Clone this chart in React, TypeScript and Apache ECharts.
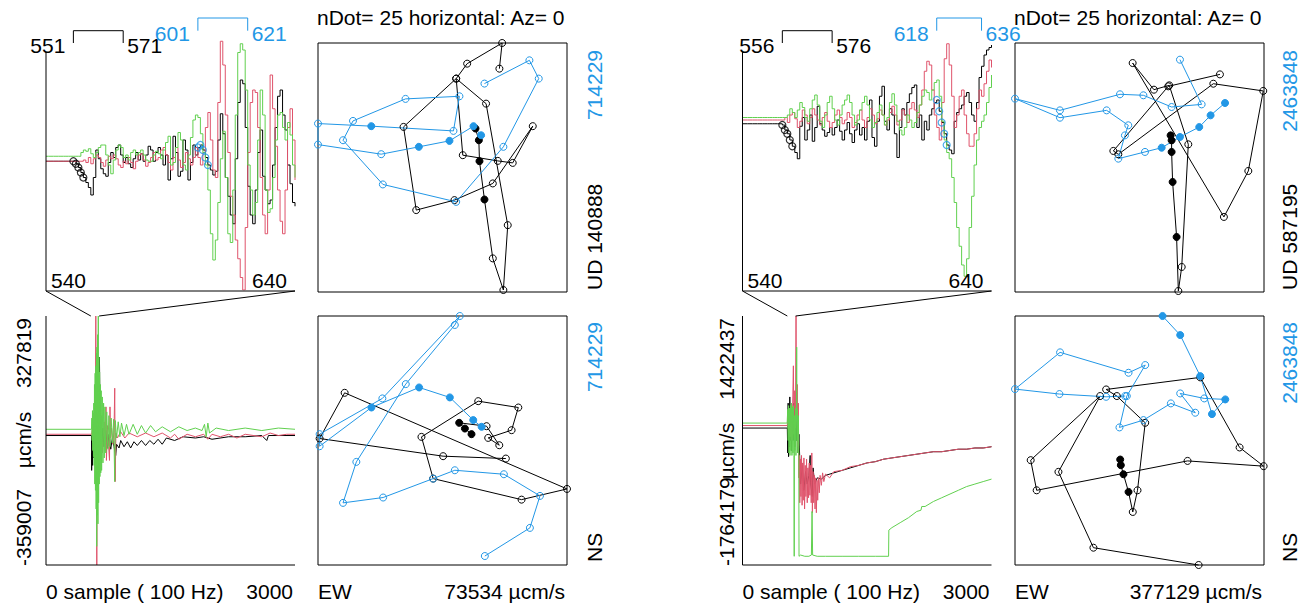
import React, { useEffect, useRef } from "react";
import * as echarts from "echarts";

const BLACK = "#000000";
const RED = "#DF536B";
const GREEN = "#61D04F";
const BLUE = "#2297E6";
const FONT = '"Liberation Sans", Arial, sans-serif';

// ---------- zoomed waveforms, samples 540..640 (amplitude, arbitrary units) ----------
const zoomStart = 540;
const zoomEnd = 640;

const L_zoomBlack = [
  3, 3, 3, 3, 3, 3, 3, 3, 3, 3, 3,
  3, 1, -2, -6, -10, -14, -18, -24, -10, 12,
  5, -3, -7, -9, 2, 10, 6, 14, 16, 8,
  2, 6, 1, -2, 5, 10, 4, 9, 3, 8,
  15, 12, 3, 10, 14, 8, 0, 8, -12, 5,
  23, 10, -9, -5, 20, 12, -12, 2, 16, 8,
  14, 16, 12, 6, 0, -4, -8, -5, 20, 41,
  25, -10, -25, -40, -47, 5, 50, 68, 65, 30,
  -17, -40, -47, -20, 10, 28, -9, -20, -31, -28,
  0, 30, 55, 60, 40, 28, 0, -15, -30, -33,
];
const L_zoomRed = [
  3, 3, 3, 3, 3, 3, 3, 3, 3, 3, 3, 3, 3, 3, 3,
  4, 2, 6, 1, 5, 8,
  6, 2, -1, 4, 7, 5, 8, 5, 0, -2,
  3, 1, 6, 2, -3, 3, 8, 9, 4, -1,
  2, 6, 10, 4, 6, 12, 14, 8, 2, -4,
  6, 14, 4, -2, 2, 10, 5, 0, 6, 14,
  6, 0, 10, 30, 42, 20, -4, -10, 50, 99,
  80, 40, 10, -25, -40, -60, -75, -90, -100, -50,
  10, 50, 60, 58, 30, -10, -40, -55, -20, 72,
  45, 15, -20, -45, -55, -20, 30, 45, 20, -12,
];
const L_zoomGreen = [
  7, 7, 7, 7, 7, 7, 7, 7, 7, 7, 7, 7, 7, 7,
  10, 12, 11, 13, 9, 6, 10,
  14, 16, 16, 8, 0, -7, 4, 12, 16, 14,
  6, 8, 4, 10, 12, 8, 10, 12, 8, 4,
  3, 3, 8, 11, 9, 5, 12, 18, 23, 0,
  2, 14, 26, 20, 0, -4, 8, 22, 36, 40,
  38, 25, 10, 0, -20, -55, -76, -60, -30, 5,
  27, -10, -55, -62, -20, 40, 90, 97, 92, 60,
  0, -20, -40, -30, 20, 60, 40, -20, -38, -35,
  -10, 20, 40, 42, 30, 20, 34, 24, 0, -10,
];

const R_zoomBlack = [
  33, 33, 33, 33, 33, 33, 33, 33, 33, 33, 33, 33, 33, 33, 33, 33,
  32, 28, 25, 20, 15,
  10, 5, 31, 38, 20, 28, 40, 19, 30, 47,
  33, 28, 23, 26, 30, 24, 30, 36, 27, 20,
  28, 34, 25, 18, 28, 33, 24, 30, 20, 35,
  52, 22, 15, 35, 55, 63, 35, 28, 45, 40,
  25, 6, 30, 45, 40, 50, 57, 62, 64, 30,
  40, 20, 35, 28, 40, 45, 50, 52, 43, 34,
  25, 16, 12, 9, 35, 42, 45, 48, 55, 58,
  50, 40, 35, 50, 70, 79, 88, 92, 94, 96,
];
const R_zoomRed = [
  36, 36, 36, 36, 36, 36, 36, 36, 36, 36, 36, 36, 36, 36, 36, 36, 36,
  38, 34, 40, 42,
  37, 30, 35, 44, 40, 33, 38, 45, 40, 36,
  32, 38, 42, 35, 30, 34, 40, 44, 38, 33,
  36, 42, 38, 30, 34, 40, 44, 36, 30, 38,
  45, 40, 33, 37, 44, 40, 32, 36, 42, 47,
  40, 32, 36, 44, 40, 34, 45, 50, 44, 38,
  48, 60, 75, 83, 80, 60, 40, 30, 20, 50,
  85, 97, 80, 55, 30, 40, 55, 60, 40, 25,
  15, 15, 25, 45, 60, 55, 65, 75, 84, 78,
];
const R_zoomGreen = [
  38, 38, 38, 38, 38, 38, 38, 38, 38, 38, 38, 38, 38, 38, 38, 38, 38, 38,
  40, 45, 42,
  38, 44, 50, 46, 38, 35, 45, 52, 56, 48,
  35, 30, 40, 50, 55, 45, 36, 32, 40, 48,
  52, 56, 50, 40, 32, 36, 44, 50, 55, 48,
  36, 30, 34, 42, 48, 40, 32, 38, 50, 57,
  48, 35, 28, 24, 30, 40, 36, 30, 34, 42,
  48, 55, 60, 58, 52, 60, 66, 68, 55, 35,
  20, 10, 5, -10, -30, -50, -65, -80, -89, -75,
  -50, -25, 0, 20, 30, 35, 40, 50, 62, 72,
];

// particle-motion windows [start, end]
const L_blackWin = [551, 571];
const L_blueWin = [601, 621];
const R_blackWin = [556, 576];
const R_blueWin = [618, 636];
const nMark = 5;

// ---------- full records, samples 0..3000 : [sample, amplitude] ----------
const fullEnd = 3000;
const L_fullBlack = [
  [0, 4], [548, 4], [550, -24], [553, -10], [558, -20], [563, 0], [570, -14], [580, 8], [590, -10],
  [600, 15], [610, -18], [620, 20], [630, -10], [640, 25], [644, 67], [648, 40], [652, -10], [660, 15],
  [670, -8], [685, 10], [700, -5], [720, 8], [740, -6], [760, 5], [780, -7], [800, 2], [820, -5],
  [840, -12], [850, -3], [880, -6], [900, 0], [940, -5], [980, -1], [1020, -6], [1060, -1], [1100, -4],
  [1150, 0], [1200, -4], [1250, 0], [1300, -3], [1350, 1], [1400, -3], [1450, 2], [1550, 0], [1650, 3],
  [1800, 2], [1900, 3], [2000, 1], [2200, 3], [2400, 3], [2600, 4], [2660, 0], [2680, 4], [2800, 4], [3000, 4],
];
const L_fullRed = [
  [0, 5], [550, 5], [560, 10], [565, -2], [575, 14], [582, -8], [590, 25], [596, -20], [600, 100],
  [604, -30], [608, 40], [612, -100], [616, 30], [622, -40], [630, 45], [638, -25], [646, 30], [655, -15],
  [665, 20], [680, -10], [700, 15], [715, -8], [723, 27], [728, -16], [740, 12], [755, -5], [765, -16],
  [771, 27], [778, 2], [790, 10], [805, -3], [820, 8], [828, 42], [834, -33], [842, 6], [860, 2],
  [900, 7], [950, 2], [1000, 6], [1100, 3], [1200, 6], [1300, 3], [1400, 6], [1500, 2], [1550, 5],
  [1600, 1], [1700, 5], [1800, 3], [1900, 5], [1950, 1], [2000, 5], [2100, 3], [2200, 5], [2300, 2],
  [2400, 5], [2600, 3], [2700, 6], [2800, 4], [2900, 5], [3000, 5],
];
const L_fullGreen = [
  [0, 9], [548, 9], [553, 18], [556, 0], [560, 24], [564, -8], [568, 22], [572, -13], [576, 30],
  [580, -20], [584, 45], [588, -35], [592, 54], [596, -40], [600, 60], [604, -55], [608, 70], [611, -85],
  [614, 75], [618, -60], [622, 85], [626, -67], [630, 100], [634, -50], [638, 67], [642, -35], [646, 55],
  [650, -29], [655, 45], [660, -26], [665, 40], [670, -24], [678, 35], [686, -18], [694, 30], [702, -14],
  [710, 27], [720, -10], [732, 23], [745, -7], [758, 20], [770, -5], [785, 18], [800, -2], [815, 17],
  [828, -33], [835, 16], [850, 2], [870, 15], [890, 3], [910, 14], [940, 4], [970, 13], [1000, 5],
  [1050, 13], [1100, 5], [1150, 12], [1200, 6], [1260, 12], [1320, 7], [1400, 11], [1500, 7],
  [1600, 11], [1700, 8], [1800, 10], [1880, 8], [1910, 13], [1930, 3], [1950, 14], [1970, 6],
  [2050, 10], [2200, 8], [2400, 10], [2600, 8], [2800, 10], [3000, 9],
];

const R_fullBlack = [
  [0, 10], [540, 10], [545, -10], [550, 30], [555, -13], [560, 20], [565, -5], [570, 35], [575, 0],
  [580, 25], [590, -8], [600, 20], [610, 0], [620, 30], [630, -5], [640, 15], [650, 0], [660, 20],
  [670, -10], [680, 5], [690, -15], [694, -20], [700, -35], [720, -20], [740, -40], [760, -25],
  [780, -35], [800, -28], [815, -12], [820, -34], [840, -45], [850, -22], [870, -35], [900, -30],
  [950, -31], [1000, -28], [1100, -26], [1200, -24], [1300, -22], [1400, -20], [1500, -18],
  [1600, -17], [1700, -15], [1800, -14], [1900, -13], [2000, -12], [2100, -11], [2200, -10],
  [2300, -9], [2400, -9], [2500, -8], [2600, -7], [2700, -7], [2800, -6], [2900, -6], [3000, -5],
];
const R_fullRed = [
  [0, 12], [540, 12], [548, 20], [555, 5], [565, 22], [575, 3], [585, 25], [595, 0], [605, 30],
  [613, 60], [620, 5], [630, 40], [638, 10], [645, 100], [650, 20], [660, 45], [668, -5], [673, 30],
  [678, -30], [685, -12], [690, -50], [697, -15], [704, -45], [711, -12], [718, -52], [725, -18],
  [732, -48], [740, -14], [748, -55], [756, -20], [764, -45], [772, -15], [780, -50], [788, -22],
  [796, -46], [804, -18], [812, -44], [820, -20], [828, -50], [835, -10], [842, -58], [850, -25],
  [858, -50], [866, -28], [874, -55], [882, -30], [890, -58], [898, -32], [906, -48], [915, -30],
  [925, -42], [935, -28], [950, -36], [965, -26], [980, -33], [1000, -27], [1050, -30], [1100, -25],
  [1200, -24], [1300, -21], [1400, -20], [1500, -18], [1600, -17], [1700, -15], [1800, -14],
  [1900, -13], [2000, -12], [2100, -11], [2200, -10], [2300, -9], [2400, -9], [2500, -8],
  [2600, -7], [2700, -7], [2800, -6], [2900, -6], [3000, -5],
];
const R_fullGreen = [
  [0, 14], [538, 14], [545, 25], [550, 0], [555, 28], [560, -10], [566, 26], [572, -12], [578, 28],
  [584, -8], [590, 30], [596, -12], [602, 27], [608, -10], [614, 28], [620, -12], [623, -93],
  [626, 20], [632, -8], [638, 26], [644, -12], [650, 30], [653, 75], [657, 0], [662, 25], [668, -10],
  [673, 20], [678, -5], [681, -93], [700, -92], [750, -93], [800, -93], [830, -92], [838, -57],
  [845, -92], [900, -93], [1000, -93], [1200, -93], [1400, -93], [1600, -93], [1760, -93],
  [1763, -72], [1800, -70], [1900, -66], [2000, -62], [2100, -57], [2150, -56], [2160, -53],
  [2200, -53], [2300, -49], [2400, -46], [2500, -43], [2600, -40], [2700, -37], [2800, -35],
  [2900, -33], [3000, -31],
];

// ---------- particle motion: [x, y, filled] (normalised to +-100) ----------
const L_pmTopBlack = [
  [26.5, 31.3, 1], [29.2, 21.9, 1], [29.7, 5.1, 1], [33.7, -25.7, 1], [40.4, -73, 0], [48.9, -98.4, 0],
  [52.4, -46.3, 0], [35, 51.3, 0], [11, 71.4, 0], [16.3, 9.9, 0], [44.4, 5.3, 0], [56.4, 3.7, 0],
  [72.5, 33.2, 0], [40.4, -12.8, 0], [9.6, -26.2, 0], [-21.1, -34.2, 0], [-31.3, 32.6, 0],
  [11, 71.4, 0], [19.8, 83.4, 0], [47.9, 100, 0], [45.7, 79.4, 0],
];
const L_pmTopBlue = [
  [31, 25.9, 1], [24.9, 33.2, 1], [5.6, 21.4, 1], [-19, 16.6, 1], [-49.2, 10.7, 0], [-100, 18.4, 0],
  [-100, 35.3, 0], [-57.2, 33.2, 1], [8.8, 29.4, 0], [13.6, 57.2, 0], [-29.7, 55.1, 0], [-71.9, 37.4, 0],
  [-79.9, 21.9, 0], [-47.9, -13.6, 0], [11, -27.6, 0], [48.9, 16.6, 0], [77.3, 71.4, 0],
  [69.8, 86.1, 0], [33.7, 67.4, 0],
];
const L_pmBotBlack = [
  [23.3, 5.1, 1], [18, 9.6, 1], [13.4, 14.2, 1], [35.4, 11.5, 0], [45.6, -3.8, 0], [36.7, 2.1, 0],
  [55.5, 8.3, 0], [60.9, 26.5, 0], [28.7, 31.6, 0], [-16.9, 2.9, 0], [-7.5, -30.6, 0], [63.5, -47.5, 0],
  [100, -38.9, 0], [-78.6, 38.3, 0], [-98.7, 1.6, 0], [0.5, -12.6, 0], [50.9, -14.5, 0],
];
const L_pmBotBlue = [
  [31.4, 11, 1], [24.7, 16.4, 1], [5.9, 34.6, 1], [-18.8, 42.6, 1], [-57.1, 26.5, 1], [-98.7, -4.6, 0],
  [-98.7, 5.1, 0], [-48.3, 33.8, 0], [13.9, 100, 0], [9.9, 92.8, 0], [-29.5, 45.3, 0], [-69.2, -17.2, 0],
  [-79.9, -50.1, 0], [-47.7, -45.8, 0], [-7.5, -30.6, 0], [9.9, -23.9, 0], [49.3, -27.1, 0],
  [78.3, -44.5, 0], [70.2, -70.2, 0], [34, -92.8, 0],
];
const R_pmTopBlack = [
  [25, 25.8, 1], [25.8, 21.8, 1], [25.8, 12.5, 1], [26.6, -11.6, 1], [29.8, -55.8, 1], [31.2, -99.2, 0],
  [33.9, -79.9, 0], [39.2, 18.6, 0], [23.9, 66, 0], [11.6, 62.5, 0], [-5.5, 83.9, 0], [67.8, -39.7, 0],
  [87.4, -2.8, 0], [99.4, 61.5, 0], [59.3, 67.3, 0], [-17, 10.6, 0], [-21, 13.3, 0], [23.1, 65.2, 0],
  [64.6, 74.8, 0],
];
const R_pmTopBlue = [
  [68.7, 51.8, 1], [57.1, 41.9, 1], [48, 32.5, 1], [32.5, 24.5, 1], [17.8, 15.9, 1], [4.4, 12.5, 0],
  [-17, 7.1, 0], [-11.7, 25.8, 0], [-9, 33.9, 0], [-26.4, 45.9, 0], [-63.9, 40, 0], [-100, 55.3, 0],
  [-63.9, 45.9, 0], [-15.7, 58.8, 0], [3.1, 58, 0], [25.8, 48.6, 0], [49.9, 50.7, 0], [32.5, 86.6, 0],
];
const R_pmBotBlack = [
  [-15.5, -15.3, 1], [-15, -19.8, 1], [-12.9, -27.1, 1], [-8.8, -41.3, 1], [-5.4, -57.4, 0],
  [-1.6, -40, 0], [4.6, 14.2, 0], [-18.2, 35.7, 0], [-26.8, 41, 0], [48.8, 50.7, 0], [80.4, -5.6, 0],
  [99.7, -20.6, 0], [38.6, -16.4, 0], [-82.6, -40, 0], [-87.4, -15.8, 0], [-31.6, 35.7, 0],
  [-65.1, -25.2, 0], [-37, -86.1, 0], [47.5, -100, 0],
];
const R_pmBotBlue = [
  [18.5, 100, 1], [32.7, 84.7, 1], [48.8, 51.7, 1], [58.2, 21.2, 1], [68.9, 33, 1], [52, 33.8, 0],
  [32.7, 37.8, 0], [44.8, 22.3, 0], [25.2, 29.8, 0], [3.2, 16.4, 0], [-16.1, 10.5, 0], [-10.2, 35.7, 0],
  [4.6, 60.6, 0], [-8.8, 54.4, 0], [-63.8, 70.8, 0], [-100, 41.3, 0], [-64.3, 37.3, 0],
  [-26.8, 35.1, 0], [-11.5, 35.7, 0],
];

// ---------- text ----------
const titleText = "nDot= 25 horizontal: Az= 0";
const sampleText = "0 sample ( 100 Hz)";
const L_ampLabels = ["-359007", "\u00b5cm/s", "327819"];
const R_ampLabels = ["-1764179", "\u00b5cm/s", "1422437"];
const L_pmLabels = { blue: "714229", ud: "UD 140888", ew: "73534 \u00b5cm/s" };
const R_pmLabels = { blue: "2463848", ud: "UD 587195", ew: "377129 \u00b5cm/s" };

const GROUPS = [
  {
    wl: 46, pl: 318, ampX: 23, ampMid: 440, pmLabX: 594,
    zoom: [L_zoomBlack, L_zoomRed, L_zoomGreen], full: [L_fullBlack, L_fullRed, L_fullGreen],
    blackWin: L_blackWin, blueWin: L_blueWin,
    pmTop: [L_pmTopBlack, L_pmTopBlue], pmBot: [L_pmBotBlack, L_pmBotBlue],
    amp: L_ampLabels, pmLab: L_pmLabels,
  },
  {
    wl: 742.5, pl: 1015, ampX: 726, ampMid: 451, pmLabX: 1289,
    zoom: [R_zoomBlack, R_zoomRed, R_zoomGreen], full: [R_fullBlack, R_fullRed, R_fullGreen],
    blackWin: R_blackWin, blueWin: R_blueWin,
    pmTop: [R_pmTopBlack, R_pmTopBlue], pmBot: [R_pmBotBlack, R_pmBotBlue],
    amp: R_ampLabels, pmLab: R_pmLabels,
  },
];

const W = 249;
const TOP_T = 40, TOP_H = 250;
const BOT_T = 316, BOT_H = 249;
const PM_T1 = 43, PM_T2 = 316;

function text(x: number, y: number, s: string, o: any = {}) {
  return {
    type: "text", x, y, silent: true, rotation: o.rot ? Math.PI / 2 : 0, z: 50,
    style: {
      text: s, fill: o.color || BLACK, fontSize: 21, fontFamily: FONT,
      align: o.align || "left", verticalAlign: o.va || "middle",
    },
  };
}
function line(x1: number, y1: number, x2: number, y2: number, color = BLACK) {
  return { type: "line", silent: true, z: 40, shape: { x1, y1, x2, y2 }, style: { stroke: color, lineWidth: 1 } };
}

function buildOption() {
  const grid: any[] = [], xAxis: any[] = [], yAxis: any[] = [], series: any[] = [], graphic: any[] = [];
  const cols = [BLACK, RED, GREEN];

  GROUPS.forEach((g, gi) => {
    const base = gi * 4;
    grid.push({ left: g.wl, top: TOP_T, width: W, height: TOP_H });
    grid.push({ left: g.wl, top: BOT_T, width: W, height: BOT_H });
    grid.push({ left: g.pl, top: PM_T1, width: W, height: W, show: true, borderColor: BLACK, borderWidth: 1, backgroundColor: "transparent" });
    grid.push({ left: g.pl, top: PM_T2, width: W, height: W, show: true, borderColor: BLACK, borderWidth: 1, backgroundColor: "transparent" });
    const xr = [[zoomStart, zoomEnd], [0, fullEnd], [-100, 100], [-100, 100]];
    for (let k = 0; k < 4; k++) {
      xAxis.push({ type: "value", gridIndex: base + k, min: xr[k][0], max: xr[k][1], show: false });
      yAxis.push({ type: "value", gridIndex: base + k, min: -100, max: 100, show: false });
    }
    // zoomed traces
    g.zoom.forEach((arr, ci) => {
      series.push({
        type: "line", xAxisIndex: base, yAxisIndex: base, step: "end", showSymbol: false, silent: true,
        lineStyle: { color: cols[ci], width: 1 }, data: arr.map((v, i) => [zoomStart + i, v]),
      });
    });
    const markOn = (win: number[], col: string) => ({
      type: "scatter", xAxisIndex: base, yAxisIndex: base, symbol: "circle", symbolSize: 7, silent: true, z: 5,
      itemStyle: { color: "rgba(0,0,0,0)", borderColor: col, borderWidth: 1.2 },
      data: Array.from({ length: nMark }, (_, i) => [win[0] + i, g.zoom[0][win[0] + i - zoomStart]]),
    });
    series.push(markOn(g.blackWin, BLACK));
    series.push(markOn(g.blueWin, BLUE));
    // full traces
    g.full.forEach((arr, ci) => {
      series.push({
        type: "line", xAxisIndex: base + 1, yAxisIndex: base + 1, showSymbol: false, silent: true,
        lineStyle: { color: cols[ci], width: 1 }, data: arr,
      });
    });
    // particle motion
    const pm = (pts: number[][], col: string, idx: number) => ({
      type: "line", xAxisIndex: idx, yAxisIndex: idx, symbol: "circle", symbolSize: 7, showSymbol: true,
      showAllSymbol: true, silent: true, clip: false,
      lineStyle: { color: col, width: 1 },
      data: pts.map((p) => ({
        value: [p[0], p[1]],
        itemStyle: { color: p[2] ? col : "rgba(0,0,0,0)", borderColor: col, borderWidth: 1 },
      })),
    });
    series.push(pm(g.pmTop[0], BLACK, base + 2));
    series.push(pm(g.pmTop[1], BLUE, base + 2));
    series.push(pm(g.pmBot[0], BLACK, base + 3));
    series.push(pm(g.pmBot[1], BLUE, base + 3));

    // frames and connectors
    const xOf = (s: number) => g.wl + ((s - zoomStart) / (zoomEnd - zoomStart)) * W;
    const xFull = (s: number) => g.wl + (s / fullEnd) * W;
    const yBotTop = TOP_T + TOP_H + 1;
    graphic.push(line(g.wl, 52, g.wl, yBotTop));
    graphic.push(line(g.wl, yBotTop, g.wl + W, yBotTop));
    graphic.push(line(g.wl, BOT_T, g.wl, BOT_T + BOT_H));
    graphic.push(line(g.wl, BOT_T + BOT_H, g.wl + W, BOT_T + BOT_H));
    graphic.push(line(g.wl, yBotTop, xFull(zoomStart), BOT_T));
    graphic.push(line(xFull(zoomEnd), BOT_T, g.wl + W, yBotTop));
    // brackets
    const bk = (win: number[], yTop: number, yBot: number, col: string) => {
      graphic.push(line(xOf(win[0]), yTop, xOf(win[1]), yTop, col));
      graphic.push(line(xOf(win[0]), yTop, xOf(win[0]), yBot, col));
      graphic.push(line(xOf(win[1]), yTop, xOf(win[1]), yBot, col));
      const ty = (yTop + yBot) / 2 + (yBot - yTop) * 0.7;
      graphic.push(text(xOf(win[0]) - 8, ty, String(win[0]), { align: "right", color: col }));
      graphic.push(text(xOf(win[1]) + 4, ty, String(win[1]), { align: "left", color: col }));
    };
    bk(g.blackWin, 30.7, 43, BLACK);
    bk(g.blueWin, 18, 30.7, BLUE);
    graphic.push(text(g.wl + 5, 280, String(zoomStart)));
    graphic.push(text(g.wl + W - 8, 280, String(zoomEnd), { align: "right" }));
    graphic.push(text(g.wl, 591, sampleText));
    graphic.push(text(g.wl + W - 2, 591, String(fullEnd), { align: "right" }));
    // amplitude labels (rotated)
    graphic.push(text(g.ampX, 566, g.amp[0], { rot: true, align: "left" }));
    graphic.push(text(g.ampX, g.ampMid, g.amp[1], { rot: true, align: "center" }));
    graphic.push(text(g.ampX, 318, g.amp[2], { rot: true, align: "right" }));
    // PM labels
    graphic.push(text(g.pl - 1, 17, titleText));
    graphic.push(text(g.pmLabX, 50, g.pmLab.blue, { rot: true, align: "right", color: BLUE }));
    graphic.push(text(g.pmLabX, 290, g.pmLab.ud, { rot: true, align: "left" }));
    graphic.push(text(g.pmLabX, 322, g.pmLab.blue, { rot: true, align: "right", color: BLUE }));
    graphic.push(text(g.pmLabX, 562, "NS", { rot: true, align: "left" }));
    graphic.push(text(g.pl, 591, "EW"));
    graphic.push(text(g.pl + W - 2, 591, g.pmLab.ew, { align: "right" }));
  });

  return { animation: false, backgroundColor: "#ffffff", grid, xAxis, yAxis, series, graphic };
}

export default function App() {
  const ref = useRef<HTMLDivElement>(null);
  useEffect(() => {
    const chart = echarts.init(ref.current!, null, { renderer: "svg" });
    chart.setOption(buildOption());
    return () => chart.dispose();
  }, []);
  return <div ref={ref} style={{ position: "absolute", left: 0, top: 0, width: 1307, height: 605 }} />;
}
